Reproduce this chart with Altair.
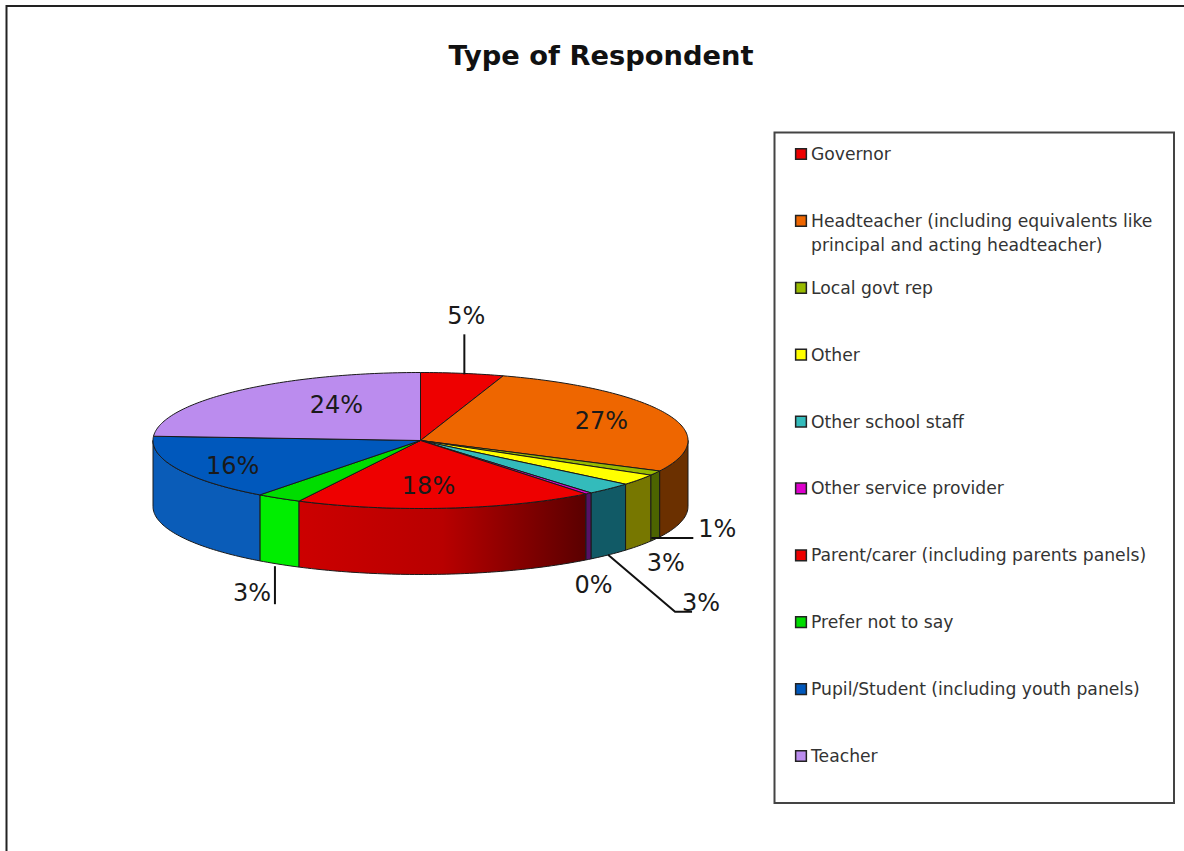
import math
import altair as alt
import pandas as pd

# Survey breakdown
RESPONDENTS = [
    "Governor",
    "Headteacher (including equivalents like\nprincipal and acting headteacher)",
    "Local govt rep",
    "Other",
    "Other school staff",
    "Other service provider",
    "Parent/carer (including parents panels)",
    "Prefer not to say",
    "Pupil/Student (including youth panels)",
    "Teacher",
]
SHARES = [5, 27.4, 1.1, 2.6, 2.9, 0.4, 18.1, 2.75, 15.75, 24]

TOP_COLOURS = ["#ee0000", "#ee6600", "#99bb00", "#ffff00", "#33bbbb",
               "#dd00cc", "#ee0000", "#00dd00", "#0058bc", "#bb8cee"]
SIDE_COLOURS = ["#aa0000", "#6b3000", "#4c6400", "#777700", "#115a66",
                "#551166", "#aa0000", "#00ee00", "#0a5cb8", "#6a4a90"]

# Disc geometry, in pixels on the page
CX, CY, RX, RY, DEPTH = 420.5, 440.5, 267.5, 68.0, 66.0
TILT = RY / RX
THICK = DEPTH / RX

# Label offsets in pixels from the rim point at each slice's middle angle
LABEL_OFFSETS = [(4, -56), (-66, 8), (62, 57), (27, 84), (92, 115),
                 (5, 93), (-18, -21), (-27, 96), (55, -2), (99, 15)]
LEADER_OFFSETS = {
    0: [(2, 1), (2, -39)],
    2: [(-4, 65), (38, 65)],
    4: [(-1, 66), (66, 123), (83, 123)],
    7: [(-4, 68), (-4, 106)],
}


def rim(deg, drop=0.0):
    a = math.radians(deg)
    return [math.sin(a), TILT * math.cos(a) - drop]


def arc(a0, a1, drop=0.0):
    steps = max(2, int(abs(a1 - a0)) + 2)
    return [rim(a0 + (a1 - a0) * i / (steps - 1), drop) for i in range(steps)]


def feature(kind, coords, part):
    geom = {"type": kind, "coordinates": coords}
    return {"type": "Feature", "geometry": geom, "properties": {"part": part}}


total = sum(SHARES)
edges = [0.0]
for s in SHARES:
    edges.append(edges[-1] + 360.0 * s / total)

tops, walls, parent_wall = [], [], []
for i, name in enumerate(RESPONDENTS):
    a0, a1 = edges[i], edges[i + 1]
    ring = [[0.0, 0.0]] + arc(a0, a1) + [[0.0, 0.0]]
    tops.append(feature("Polygon", [ring], name))
    lo, hi = max(a0, 90.0), min(a1, 270.0)
    if lo < hi:
        outline = arc(lo, hi) + arc(hi, lo, THICK)
        outline.append(outline[0])
        target = parent_wall if i == 6 else walls
        target.append(feature("Polygon", [outline], name + " side"))

mids = [(edges[i] + edges[i + 1]) / 2 for i in range(len(SHARES))]


def shifted(i, dx, dy):
    x, y = rim(mids[i])
    return [x + dx / RX, y - dy / RX]


label_rows = []
for i, s in enumerate(SHARES):
    lon, lat = shifted(i, *LABEL_OFFSETS[i])
    label_rows.append({"lon": lon, "lat": lat, "text": f"{round(s)}%"})

leaders = [feature("LineString", [shifted(i, *p) for p in pts], "leader")
           for i, pts in LEADER_OFFSETS.items()]

projection = dict(type="identity", reflectY=True, scale=RX, translate=[CX, CY])

fill_scale = alt.Scale(
    domain=RESPONDENTS + [n + " side" for n in RESPONDENTS],
    range=TOP_COLOURS + SIDE_COLOURS,
)
part_fill = alt.Fill("properties.part:N", scale=fill_scale, legend=None)

wall_layer = (
    alt.Chart(alt.Data(values=walls))
    .mark_geoshape(stroke="#1a1a1a", strokeWidth=1)
    .encode(fill=part_fill)
    .project(**projection)
)
parent_wall_layer = (
    alt.Chart(alt.Data(values=parent_wall))
    .mark_geoshape(
        stroke="#1a1a1a",
        strokeWidth=1,
        fill=alt.Gradient(
            gradient="linear",
            x1=0, x2=1, y1=0, y2=0,
            stops=[
                alt.GradientStop(color="#cc0000", offset=0),
                alt.GradientStop(color="#b80000", offset=0.5),
                alt.GradientStop(color="#5a0000", offset=1),
            ],
        ),
    )
    .project(**projection)
)
top_layer = (
    alt.Chart(alt.Data(values=tops))
    .mark_geoshape(stroke="#1a1a1a", strokeWidth=1)
    .encode(fill=part_fill)
    .project(**projection)
)
leader_layer = (
    alt.Chart(alt.Data(values=leaders))
    .mark_geoshape(filled=False, stroke="#111111", strokeWidth=2)
    .project(**projection)
)
value_layer = (
    alt.Chart(pd.DataFrame(label_rows))
    .mark_text(font="DejaVu Sans", fontSize=24, color="#1a1a1a",
               align="center", baseline="middle")
    .encode(longitude="lon:Q", latitude="lat:Q", text="text:N")
    .project(**projection)
)

# Key panel on the right
key = pd.DataFrame({"row": range(len(RESPONDENTS)), "name": RESPONDENTS})
row_y = alt.Y("row:Q", axis=None, scale=alt.Scale(domain=[0, 9], range=[160, 762]))

key_box = (
    alt.Chart(alt.Data(values=[{}]))
    .mark_rect(fill="white", stroke="#444444", strokeWidth=2)
    .encode(x=alt.value(774.5), x2=alt.value(1174), y=alt.value(132.5), y2=alt.value(803))
)
key_swatches = (
    alt.Chart(key)
    .mark_square(size=115, opacity=1, stroke="#222222", strokeWidth=1.5, yOffset=-6)
    .encode(
        x=alt.value(801),
        y=row_y,
        fill=alt.Fill("name:N", scale=fill_scale, legend=None),
    )
)
key_text = (
    alt.Chart(key)
    .mark_text(font="DejaVu Sans", fontSize=17.2, color="#333333", align="left",
               baseline="alphabetic", lineBreak="\n", lineHeight=24)
    .encode(x=alt.value(811), y=row_y, text="name:N")
)

title_text = (
    alt.Chart(alt.Data(values=[{"t": "Type of Respondent"}]))
    .mark_text(font="DejaVu Sans", fontWeight="bold", fontSize=27.3, color="#111111",
               align="center", baseline="middle")
    .encode(x=alt.value(601), y=alt.value(57), text="t:N")
)

page_left = (
    alt.Chart(alt.Data(values=[{}]))
    .mark_rule(color="#222222", strokeWidth=2)
    .encode(x=alt.value(6.5), y=alt.value(5), y2=alt.value(851))
)
page_top = (
    alt.Chart(alt.Data(values=[{}]))
    .mark_rule(color="#222222", strokeWidth=2)
    .encode(x=alt.value(6), x2=alt.value(1184), y=alt.value(6))
)

chart = alt.layer(
    page_left, page_top, title_text, key_box,
    wall_layer, parent_wall_layer, top_layer, leader_layer, value_layer,
    key_swatches, key_text,
).properties(
    width=1184, height=851, padding=0, autosize=alt.AutoSizeParams(type="none"),
    background="white",
).configure_view(stroke=None)

chart.save("out.html", embed_options={"renderer": "svg", "actions": False})
